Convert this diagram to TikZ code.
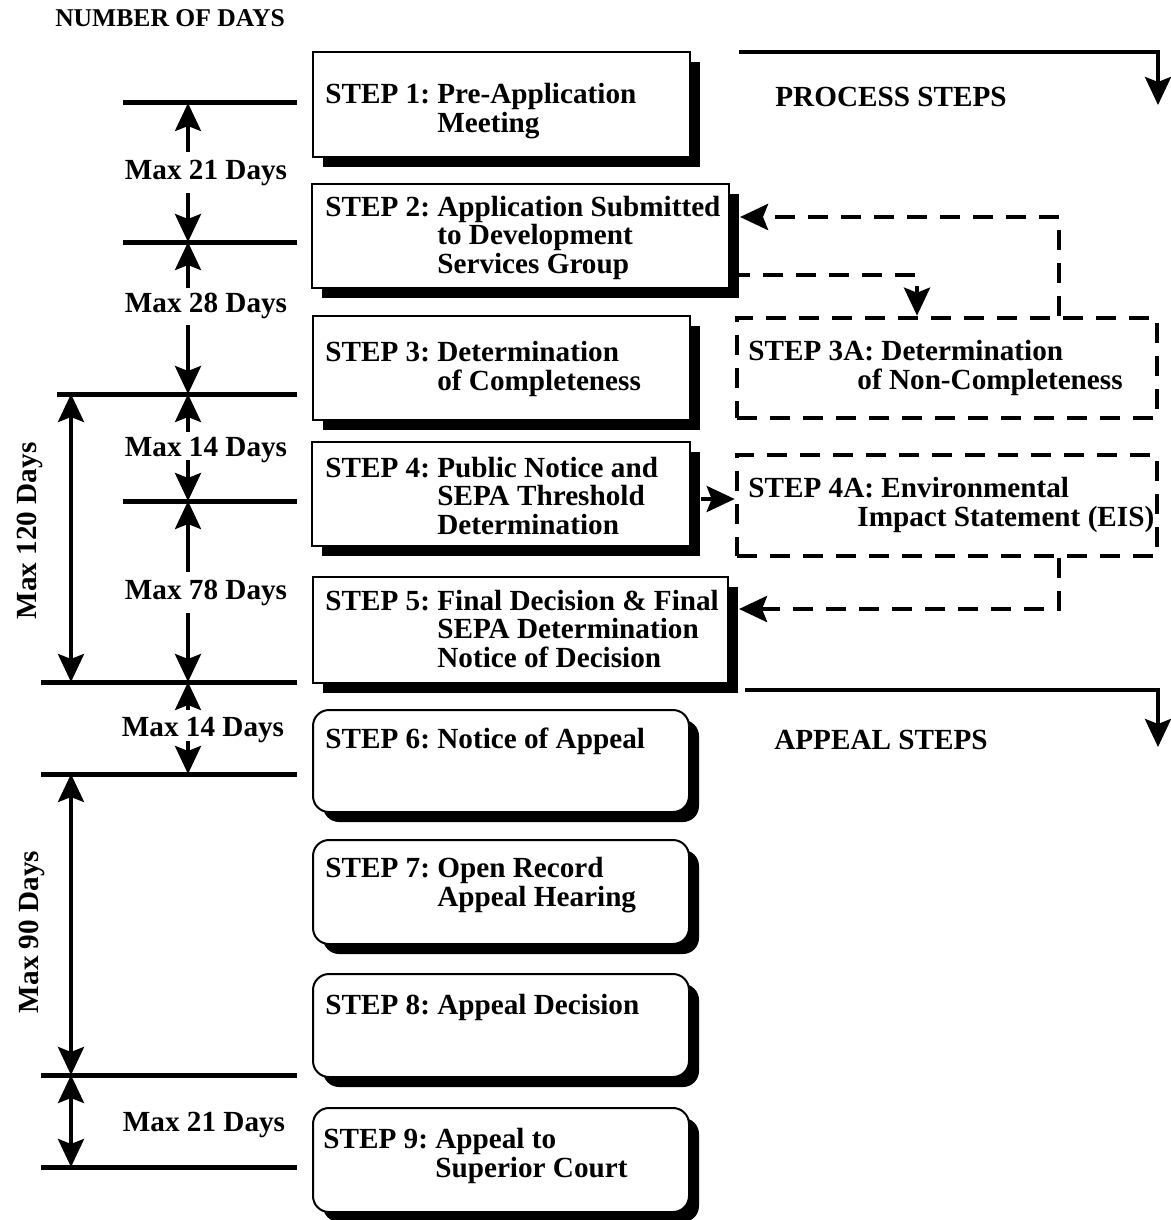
\documentclass[tikz,border=0pt]{standalone}
\usepackage{fontspec}
\setmainfont{Liberation Serif}
\usetikzlibrary{arrows.meta,shadows,fit}
\newcommand{\stp}[3]{\begin{tabular}{@{}l@{\ }l@{}}#1&#2\\#3\end{tabular}}
\begin{document}
\begin{tikzpicture}[x=0.5pt,y=-0.5pt,
  font=\fontsize{14.6}{14}\selectfont\bfseries,
  >={Stealth[length=14pt,width=13pt,inset=2.5pt]},
  stepbox/.style={draw, line width=1pt, fill=white, inner sep=0pt,
    drop shadow={shadow xshift=5pt,shadow yshift=-5pt,fill=black,opacity=1}},
  roundbox/.style={stepbox, rounded corners=8pt},
  altbox/.style={draw, line width=2.3pt, dash pattern=on 10pt off 6.5pt, inner sep=0pt},
  txt/.style={anchor=west, inner sep=0pt, align=left},
  lab/.style={inner sep=0pt},
  hline/.style={line width=2.5pt},
  arr/.style={line width=2pt, ->},
  darr/.style={line width=2pt, <->},
  dsh/.style={line width=2.3pt, dash pattern=on 10pt off 6.5pt, ->},
  flow/.style={line width=2pt, ->}]
\useasboundingbox (0,0) rectangle (1171,1220);

% step boxes
\node[stepbox, fit={(313,52) (690,157)}] (s1) {};
\node[stepbox, fit={(312,184) (729,288)}] (s2) {};
\node[stepbox, fit={(313,316) (690,420)}] (s3) {};
\node[stepbox, fit={(312,442) (690,546)}] (s4) {};
\node[stepbox, fit={(313,577) (728,683)}] (s5) {};
\node[roundbox, fit={(313,710) (689,812)}] (s6) {};
\node[roundbox, fit={(313,840) (689,944)}] (s7) {};
\node[roundbox, fit={(313,974) (689,1077)}] (s8) {};
\node[roundbox, fit={(313,1108) (689,1212)}] (s9) {};
\node[altbox, fit={(737,318) (1157,418)}] (s3a) {};
\node[altbox, fit={(737,455) (1157,556)}] (s4a) {};

% step texts
\node[txt] (t1) at (325,112) {\stp{STEP 1:}{Pre-Application}{&Meeting}};
\node[txt] (t2) at (325,239) {\stp{STEP 2:}{Application Submitted}{&to Development\\&Services Group}};
\node[txt] (t3) at (325,370) {\stp{STEP 3:}{Determination}{&of Completeness}};
\node[txt] (t4) at (325,500) {\stp{STEP 4:}{Public Notice and}{&SEPA Threshold\\&Determination}};
\node[txt] (t5) at (325,633) {\stp{STEP 5:}{Final Decision \& Final}{&SEPA Determination\\&Notice of Decision}};
\node[txt] (t6) at (325,741) {STEP 6:\ Notice of Appeal};
\node[txt] (t7) at (325,886) {\stp{STEP 7:}{Open Record}{&Appeal Hearing}};
\node[txt] (t8) at (325,1007) {STEP 8:\ Appeal Decision};
\node[txt] (t9) at (323,1157) {\stp{STEP 9:}{Appeal to}{&Superior Court}};
\node[txt] (t3a) at (748,369) {\stp{STEP 3A:}{Determination}{&\hspace{-12pt}of Non-Completeness}};
\node[txt] (t4a) at (748,506) {\stp{STEP 4A:}{Environmental}{&\hspace{-12pt}Impact Statement (EIS)}};

% headings
\node[lab, font=\fontsize{12.8}{13}\selectfont\bfseries] (hdays) at (170,18) {NUMBER OF DAYS};
\node[lab] (hproc) at (891,97) {PROCESS STEPS};
\node[lab] (happ) at (881,740) {APPEAL STEPS};

% process / appeal flow arrows
\coordinate (p0) at (739,52);
\coordinate (p1) at (1158,105);
\draw[flow] (p0) -| (p1);
\coordinate (q0) at (745,690);
\coordinate (q1) at (1158,747);
\draw[flow] (q0) -| (q1);

% dashed connectors
\draw[dsh] ([shift={(112,0)}]s3a.north) |- ([shift={(10,-19)}]s2.east);
\draw[dsh] ([shift={(0,39)}]s2.east) -| ([shift={(-30,0)}]s3a.north);
\draw[dsh] ([shift={(112,0)}]s4a.south) |- ([shift={(10,-21)}]s5.east);
\coordinate (s4out) at ([shift={(10,5)}]s4.east);
\draw[arr] (s4out) -- (s4out -| s4a.west);

% day scale lines
\draw[hline] (123,103) -- (297,103);
\draw[hline] (123,242) -- (297,242);
\draw[hline] (57,394) -- (297,394);
\draw[hline] (123,501) -- (297,501);
\draw[hline] (41,682) -- (297,682);
\draw[hline] (41,774) -- (297,774);
\draw[hline] (41,1075) -- (297,1075);
\draw[hline] (41,1167) -- (297,1167);

% day labels
\node[lab] (m21a) at (206,173) {Max 21 Days};
\node[lab] (m28) at (206,306) {Max 28 Days};
\node[lab] (m14a) at (206,450) {Max 14 Days};
\node[lab] (m78) at (206,593) {Max 78 Days};
\node[lab] (m14b) at (203,730) {Max 14 Days};
\node[lab] (m21b) at (204,1125) {Max 21 Days};
\node[lab, rotate=90] (m120) at (30,531) {Max 120 Days};
\node[lab, rotate=90] (m90) at (32,932) {Max 90 Days};

% day arrows
\coordinate (a1) at (188,152); \coordinate (b1) at (188,103);
\coordinate (a2) at (188,193); \coordinate (b2) at (188,242);
\coordinate (a3) at (188,288);
\coordinate (a4) at (188,325); \coordinate (b4) at (188,394);
\coordinate (a5) at (188,432);
\coordinate (a6) at (188,460); \coordinate (b6) at (188,501);
\coordinate (a7) at (188,572);
\coordinate (a8) at (188,613); \coordinate (b8) at (188,682);
\coordinate (a9) at (188,710);
\coordinate (a10) at (188,741); \coordinate (b10) at (188,774);
\draw[arr] (a1) -- (b1);
\draw[arr] (a2) -- (b2);
\draw[arr] (a3) -- (b2);
\draw[arr] (a4) -- (b4);
\draw[arr] (a5) -- (b4);
\draw[arr] (a6) -- (b6);
\draw[arr] (a7) -- (b6);
\draw[arr] (a8) -- (b8);
\draw[arr] (a9) -- (b8);
\draw[arr] (a10) -- (b10);
\coordinate (c1) at (71,394); \coordinate (c2) at (71,682);
\coordinate (c3) at (71,774); \coordinate (c4) at (71,1075);
\coordinate (c5) at (71,1167);
\draw[darr] (c1) -- (c2);
\draw[darr] (c3) -- (c4);
\draw[darr] (c4) -- (c5);
\end{tikzpicture}
\end{document}
